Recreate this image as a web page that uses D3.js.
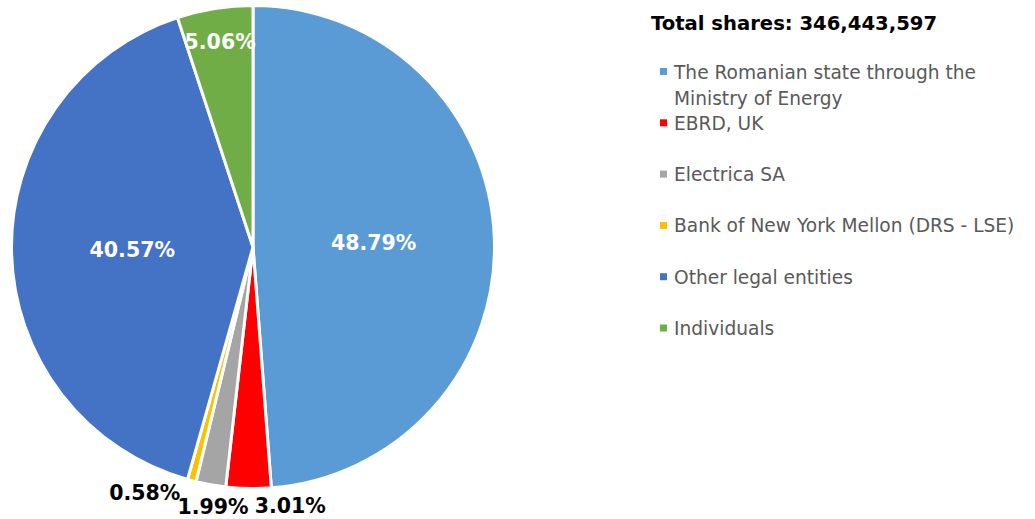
<!DOCTYPE html>
<html>
<head>
<meta charset="utf-8">
<script src="https://cdn.jsdelivr.net/npm/d3@7"></script>
<style>
  html, body { margin: 0; padding: 0; background: #fff; }
  svg { display: block; font-family: "DejaVu Sans", Verdana, sans-serif; }
</style>
</head>
<body>
<div id="chart"></div>
<script>
// shareholders, clockwise from 12 o'clock
const categories = [
  "The Romanian state through the Ministry of Energy",
  "EBRD, UK",
  "Electrica SA",
  "Bank of New York Mellon (DRS - LSE)",
  "Other legal entities",
  "Individuals",
];
const shares = [48.79, 3.01, 1.99, 0.58, 40.57, 5.06];
const colors = ["#5B9BD5", "#FF0000", "#A5A5A5", "#FFC000", "#4472C4", "#70AD47"];
const totalShares = 346443597;

// legend lines (first entry wraps)
const legendLines = [
  ["The Romanian state through the", "Ministry of Energy"],
  ["EBRD, UK"],
  ["Electrica SA"],
  ["Bank of New York Mellon (DRS - LSE)"],
  ["Other legal entities"],
  ["Individuals"],
];

const width = 1035, height = 519;
const center = { x: 253, y: 247 };
const radius = 241.5;

// label placement (fraction of radius, nudge in px) - mimics excel best fit
const labelStyle = [
  { r: 0.5, dx: 0, dy: 0, inside: true },
  { r: 1.07, dx: 42, dy: 0, inside: false },
  { r: 1.09, dx: 6, dy: 0, inside: false },
  { r: 1.05, dx: -44, dy: 0, inside: false },
  { r: 0.5, dx: 0, dy: 0, inside: true },
  { r: 0.86, dx: 0, dy: 0, inside: true },
];

const data = categories.map((c, i) => ({ key: c, value: shares[i] }));

const svg = d3.select("#chart")
  .append("svg")
  .attr("width", width)
  .attr("height", height);

const color = d3.scaleOrdinal(categories, colors);

const pieGen = d3.pie().value((d) => d.value).sort(null);
const arcGen = d3.arc().innerRadius(0).outerRadius(radius);
const arcs = pieGen(data);

const graph = svg.append("g")
  .attr("transform", `translate(${center.x}, ${center.y})`);

graph.selectAll("path")
  .data(arcs)
  .join("path")
  .attr("d", arcGen)
  .attr("fill", (d) => color(d.data.key))
  .attr("stroke", "#fff")
  .attr("stroke-width", 3)
  .attr("stroke-linejoin", "round");

// data labels
graph.selectAll("text.label")
  .data(arcs)
  .join("text")
  .attr("class", "label")
  .attr("transform", (d, i) => {
    const s = labelStyle[i];
    const a = (d.startAngle + d.endAngle) / 2;
    const r = radius * s.r;
    return `translate(${r * Math.sin(a) + s.dx}, ${-r * Math.cos(a) + s.dy})`;
  })
  .attr("text-anchor", "middle")
  .attr("dy", "0.36em")
  .attr("fill", (d, i) => (labelStyle[i].inside ? "#fff" : "#000"))
  .style("font-weight", "bold")
  .style("font-size", "20.5px")
  .text((d) => d3.format(".2f")(d.data.value) + "%");

// title
svg.append("text")
  .attr("x", 651)
  .attr("y", 30)
  .style("font-weight", "bold")
  .style("font-size", "19.6px")
  .attr("fill", "#000")
  .text("Total shares: " + d3.format(",")(totalShares));

// legend
const legendY = d3.scalePoint()
  .domain(categories)
  .range([71.5, 328]);

const legend = svg.append("g");
const item = legend.selectAll("g")
  .data(categories)
  .join("g")
  .attr("transform", (d) => `translate(660, ${legendY(d)})`);

item.append("rect")
  .attr("x", 0)
  .attr("y", -3.5)
  .attr("width", 7)
  .attr("height", 7)
  .attr("fill", (d) => color(d));

item.append("text")
  .attr("x", 14)
  .attr("y", 7)
  .attr("fill", "#595959")
  .style("font-size", "18.6px")
  .selectAll("tspan")
  .data((d, i) => legendLines[i])
  .join("tspan")
  .attr("x", 14)
  .attr("dy", (d, i) => (i === 0 ? 0 : 26))
  .text((d) => d);
</script>
</body>
</html>
